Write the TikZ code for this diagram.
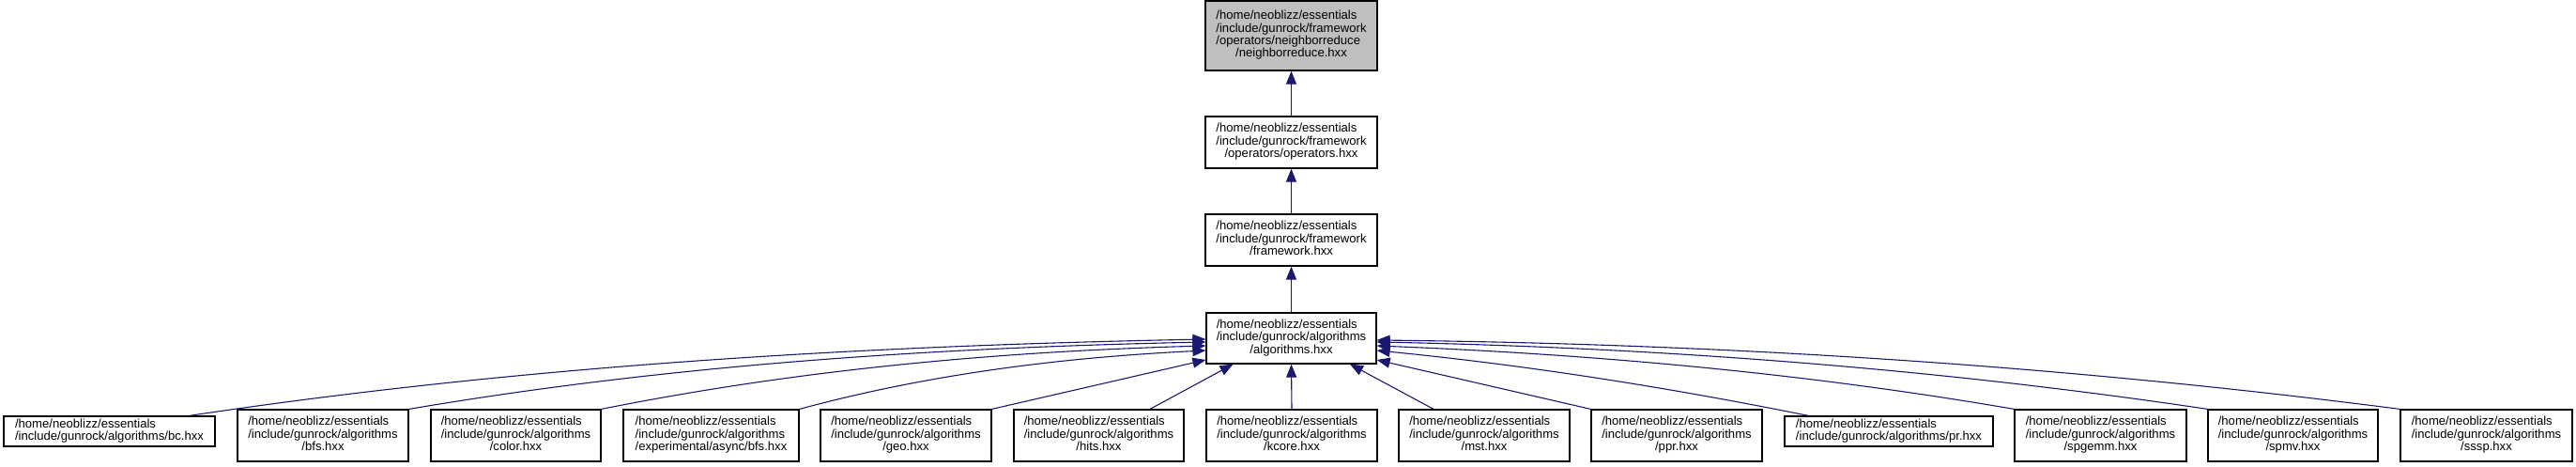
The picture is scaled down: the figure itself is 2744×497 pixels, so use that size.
\documentclass[tikz,border=0pt]{standalone}
\usepackage{fontspec}
\setmainfont{Liberation Sans}
\usetikzlibrary{arrows.meta,calc}
\definecolor{edgeblue}{HTML}{191970}
\definecolor{boxgray}{HTML}{BFBFBF}
\newcommand\lab[2]{\begin{tabular}{@{}l@{}}#1\\\multicolumn{1}{@{}c@{}}{#2}\end{tabular}}
\newcommand\labl[2]{\begin{tabular}{@{}l@{}}#1\\#2\end{tabular}}
\begin{document}
\begin{tikzpicture}[x=1pt,y=-1pt,
  box/.style={draw=black, line width=1.2pt, fill=white, inner sep=0pt,
    minimum height=55pt, font=\fontsize{13.1}{13.3}\selectfont},
  edge/.style={draw=edgeblue, line width=1.1pt, {Triangle[length=14pt,width=11pt]}-}]
\useasboundingbox (0,0) rectangle (2744,497);

\node[box, fill=boxgray, minimum width=183pt, minimum height=74pt] (top) at (1375.5,38)
  {\lab{/home/neoblizz/essentials\\/include/gunrock/framework\\/operators/neighborreduce}{/neighborreduce.hxx}};
\node[box, minimum width=183pt] (ops) at (1375.5,151.5)
  {\lab{/home/neoblizz/essentials\\/include/gunrock/framework}{/operators/operators.hxx}};
\node[box, minimum width=183pt] (fw) at (1375.5,255.5)
  {\lab{/home/neoblizz/essentials\\/include/gunrock/framework}{/framework.hxx}};
\node[box, minimum width=181pt, minimum height=54pt] (alg) at (1375.5,360)
  {\lab{/home/neoblizz/essentials\\/include/gunrock/algorithms}{/algorithms.hxx}};

\node[box, minimum width=225pt, minimum height=32pt] (bc) at (116.5,459)
  {\labl{/home/neoblizz/essentials}{/include/gunrock/algorithms/bc.hxx}};
\node[box, minimum width=182pt] (bfs) at (344,463.5)
  {\lab{/home/neoblizz/essentials\\/include/gunrock/algorithms}{/bfs.hxx}};
\node[box, minimum width=181pt] (color) at (549.5,463.5)
  {\lab{/home/neoblizz/essentials\\/include/gunrock/algorithms}{/color.hxx}};
\node[box, minimum width=187pt] (async) at (757.5,463.5)
  {\lab{/home/neoblizz/essentials\\/include/gunrock/algorithms}{/experimental/async/bfs.hxx}};
\node[box, minimum width=182pt] (geo) at (965,463.5)
  {\lab{/home/neoblizz/essentials\\/include/gunrock/algorithms}{/geo.hxx}};
\node[box, minimum width=181pt] (hits) at (1170.5,463.5)
  {\lab{/home/neoblizz/essentials\\/include/gunrock/algorithms}{/hits.hxx}};
\node[box, minimum width=182pt] (kcore) at (1376,463.5)
  {\lab{/home/neoblizz/essentials\\/include/gunrock/algorithms}{/kcore.hxx}};
\node[box, minimum width=182pt] (mst) at (1581,463.5)
  {\lab{/home/neoblizz/essentials\\/include/gunrock/algorithms}{/mst.hxx}};
\node[box, minimum width=182pt] (ppr) at (1786,463.5)
  {\lab{/home/neoblizz/essentials\\/include/gunrock/algorithms}{/ppr.hxx}};
\node[box, minimum width=222pt, minimum height=32pt] (pr) at (2012,459)
  {\labl{/home/neoblizz/essentials}{/include/gunrock/algorithms/pr.hxx}};
\node[box, minimum width=183pt] (spgemm) at (2237.5,463.5)
  {\lab{/home/neoblizz/essentials\\/include/gunrock/algorithms}{/spgemm.hxx}};
\node[box, minimum width=181pt] (spmv) at (2442.5,463.5)
  {\lab{/home/neoblizz/essentials\\/include/gunrock/algorithms}{/spmv.hxx}};
\node[box, minimum width=183pt] (sssp) at (2648.5,463.5)
  {\lab{/home/neoblizz/essentials\\/include/gunrock/algorithms}{/sssp.hxx}};

\draw[edge] (top) -- (ops);
\draw[edge] (ops) -- (fw);
\draw[edge] (fw) -- (alg);

\draw[edge] ([yshift=-1pt]alg.west) .. controls +(-361,7) and +(361,-54) .. ([xshift=-28pt]bc.north east);
\draw[edge] ([yshift=-4pt]alg.west) .. controls +(-283,6) and +(283,-48) .. (bfs.north east);
\draw[edge] ([yshift=-8pt]alg.west) .. controls +(-215,6) and +(215,-43) .. (color.north east);
\draw[edge] ([yshift=-13pt]alg.west) .. controls +(-144,7) and +(144,-39) .. (async.north east);
\draw[edge] ([yshift=-23pt]alg.west) -- (geo.north east);
\draw[edge] ([xshift=-62pt]alg.south) -- ([xshift=54.5pt]hits.north);
\draw[edge] (alg.south) -- (kcore.north);
\draw[edge] ([xshift=62.5pt]alg.south) -- ([xshift=-54pt]mst.north);
\draw[edge] ([yshift=-23pt]alg.east) -- (ppr.north west);
\draw[edge] ([yshift=-13pt]alg.east) .. controls +(154,15) and +(-154,-31) .. ([xshift=26pt]pr.north west);
\draw[edge] ([yshift=-8pt]alg.east) .. controls +(227,9) and +(-227,-39) .. (spgemm.north west);
\draw[edge] ([yshift=-4pt]alg.east) .. controls +(295,6) and +(-295,-44) .. (spmv.north west);
\draw[edge] ([yshift=-2pt]alg.east) .. controls +(364,4) and +(-364,-47) .. (sssp.north west);
\end{tikzpicture}
\end{document}
